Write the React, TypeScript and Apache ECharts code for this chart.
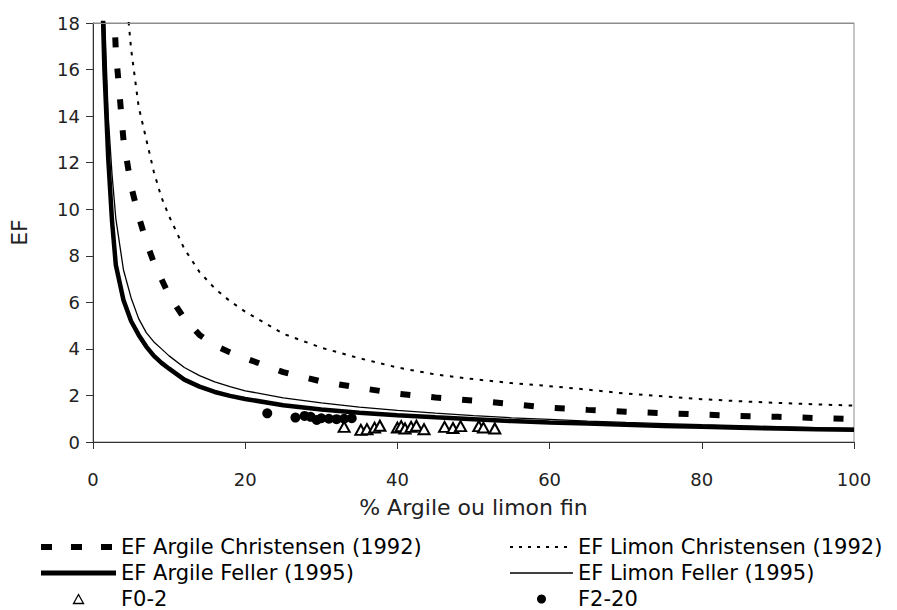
import React, { useEffect, useRef } from "react";
import * as echarts from "echarts";

// x positions (% argile ou limon fin) sampled for the curves
const curveX = [1, 1.5, 2, 2.5, 3, 4, 5, 6, 7, 8, 9, 10, 12, 14, 16, 18, 20, 25, 30, 35, 40, 45, 50, 55, 60, 65, 70, 75, 80, 85, 90, 95, 100];

const argileChristensen = [48, 34, 26, 20.5, 16.8, 13.0, 11.0, 9.7, 8.6, 7.7, 7.0, 6.3, 5.3, 4.6, 4.15, 3.85, 3.6, 3.0, 2.6, 2.33, 2.08, 1.91, 1.78, 1.63, 1.47, 1.38, 1.3, 1.24, 1.18, 1.12, 1.08, 1.03, 0.99];
const limonChristensen = [70, 50, 40, 33, 28, 20.5, 16.9, 14.4, 13.0, 11.6, 10.5, 9.7, 8.3, 7.3, 6.6, 6.05, 5.6, 4.65, 4.05, 3.6, 3.2, 2.9, 2.7, 2.53, 2.4, 2.25, 2.08, 1.96, 1.84, 1.75, 1.68, 1.62, 1.56];
const argileFeller = [22, 16, 12.2, 9.5, 7.6, 6.1, 5.2, 4.6, 4.1, 3.7, 3.4, 3.15, 2.68, 2.38, 2.15, 1.98, 1.85, 1.58, 1.4, 1.26, 1.15, 1.06, 0.98, 0.9, 0.84, 0.79, 0.74, 0.69, 0.65, 0.61, 0.58, 0.55, 0.53];
const limonFeller = [27, 18.5, 14.0, 11.5, 9.6, 7.4, 6.2, 5.3, 4.7, 4.3, 4.0, 3.7, 3.2, 2.85, 2.58, 2.38, 2.2, 1.9, 1.68, 1.5, 1.36, 1.24, 1.13, 1.04, 0.97, 0.9, 0.84, 0.79, 0.74, 0.7, 0.66, 0.62, 0.58];

// measured points
const f02X = [33.0, 35.2, 36.0, 37.0, 37.7, 40.0, 40.5, 41.0, 41.8, 42.5, 43.5, 46.2, 47.3, 48.3, 50.7, 51.3, 52.8];
const f02Y = [0.65, 0.52, 0.55, 0.62, 0.7, 0.62, 0.68, 0.58, 0.65, 0.7, 0.55, 0.65, 0.6, 0.68, 0.68, 0.62, 0.58];
const f220X = [22.9, 26.6, 27.8, 28.6, 29.4, 30.0, 31.0, 32.0, 33.0, 34.0];
const f220Y = [1.23, 1.05, 1.12, 1.08, 0.95, 1.02, 1.0, 0.98, 1.0, 1.02];

const xTicks = [0, 20, 40, 60, 80, 100];
const yTicks = [0, 2, 4, 6, 8, 10, 12, 14, 16, 18];

const names = {
  ac: "EF Argile Christensen (1992)",
  lc: "EF Limon Christensen (1992)",
  af: "EF Argile Feller (1995)",
  lf: "EF Limon Feller (1995)",
  f02: "F0-2",
  f220: "F2-20",
};

const FONT = "DejaVu Sans";
const TRIANGLE_ICON = "path://M5,0L10,9L0,9Z";

function pairs(xs: number[], ys: number[]) {
  return xs.map((x, i) => [x, ys[i]]);
}

const hiddenDot = { color: "rgba(0,0,0,0)", borderColor: "rgba(0,0,0,0)", borderWidth: 0, opacity: 0 };

export default function App() {
  const ref = useRef<HTMLDivElement>(null);
  useEffect(() => {
    if (!ref.current) return;
    const chart = echarts.init(ref.current, undefined, { renderer: "svg" });
    const legendText = { fontFamily: FONT, fontSize: 21, color: "#000", lineHeight: 22 };
    const option: any = {
      animation: false,
      backgroundColor: "#fff",
      textStyle: { fontFamily: FONT },
      grid: {
        left: 88,
        right: 43,
        top: 23,
        bottom: 168,
        show: true,
        borderColor: "#8c8c8c",
        borderWidth: 1,
      },
      xAxis: {
        type: "value",
        min: xTicks[0],
        max: xTicks[xTicks.length - 1],
        interval: 20,
        name: "% Argile ou limon fin",
        nameLocation: "middle",
        nameGap: 54,
        nameTextStyle: { fontFamily: FONT, fontSize: 22, color: "#222" },
        axisLine: { lineStyle: { color: "#333", width: 1 } },
        axisTick: { length: 7, lineStyle: { color: "#333" } },
        axisLabel: { fontFamily: FONT, fontSize: 18, color: "#222", margin: 28 },
        splitLine: { show: false },
      },
      yAxis: {
        type: "value",
        min: yTicks[0],
        max: yTicks[yTicks.length - 1],
        interval: 2,
        name: "EF",
        nameLocation: "middle",
        nameGap: 63,
        nameTextStyle: { fontFamily: FONT, fontSize: 22, color: "#222" },
        axisLine: { show: true, lineStyle: { color: "#333", width: 1 } },
        axisTick: { show: true, length: 7, lineStyle: { color: "#333" } },
        axisLabel: { fontFamily: FONT, fontSize: 18, color: "#222", margin: 13 },
        splitLine: { show: false },
      },
      legend: [
        {
          orient: "vertical",
          left: 38,
          top: 536,
          padding: 0,
          itemWidth: 75,
          itemHeight: 9,
          itemGap: 4,
          symbolKeepAspect: true,
          textStyle: legendText,
          data: [
            { name: names.ac, itemStyle: hiddenDot, lineStyle: { width: 6, type: [11, 19] } },
            { name: names.af, itemStyle: hiddenDot, lineStyle: { width: 5 } },
            { name: names.f02, icon: TRIANGLE_ICON, itemStyle: { color: "#fff", borderColor: "#000", borderWidth: 1.3 } },
          ],
        },
        {
          orient: "vertical",
          left: 509,
          top: 536,
          padding: 0,
          itemWidth: 63,
          itemHeight: 9,
          itemGap: 4,
          symbolKeepAspect: true,
          textStyle: legendText,
          data: [
            { name: names.lc, itemStyle: hiddenDot, lineStyle: { width: 2, type: [3, 6] } },
            { name: names.lf, itemStyle: hiddenDot, lineStyle: { width: 1.3 } },
            { name: names.f220, icon: "circle", itemStyle: { color: "#000", opacity: 1 } },
          ],
        },
      ],
      series: [
        {
          name: names.ac,
          type: "line",
          data: pairs(curveX, argileChristensen),
          symbol: "none",
          lineStyle: { color: "#000", width: 6, type: [10, 21] },
          itemStyle: { color: "#000" },
          z: 3,
        },
        {
          name: names.lc,
          type: "line",
          data: pairs(curveX, limonChristensen),
          symbol: "none",
          lineStyle: { color: "#000", width: 2, type: [3.5, 6.5] },
          itemStyle: { color: "#000" },
          z: 3,
        },
        {
          name: names.af,
          type: "line",
          data: pairs(curveX, argileFeller),
          symbol: "none",
          lineStyle: { color: "#000", width: 4.5 },
          itemStyle: { color: "#000" },
          z: 3,
        },
        {
          name: names.lf,
          type: "line",
          data: pairs(curveX, limonFeller),
          symbol: "none",
          lineStyle: { color: "#000", width: 1.3 },
          itemStyle: { color: "#000" },
          z: 3,
        },
        {
          name: names.f02,
          type: "scatter",
          data: pairs(f02X, f02Y),
          symbol: "triangle",
          symbolSize: [11, 10],
          itemStyle: { color: "#fff", borderColor: "#000", borderWidth: 2, opacity: 1 },
          z: 4,
        },
        {
          name: names.f220,
          type: "scatter",
          data: pairs(f220X, f220Y),
          symbol: "circle",
          symbolSize: 10,
          itemStyle: { color: "#000", opacity: 1 },
          z: 4,
        },
        {
          // top edge line of the plot area
          type: "line",
          data: [],
          markLine: {
            silent: true,
            symbol: "none",
            label: { show: false },
            lineStyle: { color: "#8c8c8c", width: 1, type: "solid" },
            data: [{ yAxis: 18 }],
          },
        },
      ],
    };
    chart.setOption(option);
    return () => chart.dispose();
  }, []);
  return <div ref={ref} style={{ width: 897, height: 610, position: "absolute", left: 0, top: 0 }} />;
}
